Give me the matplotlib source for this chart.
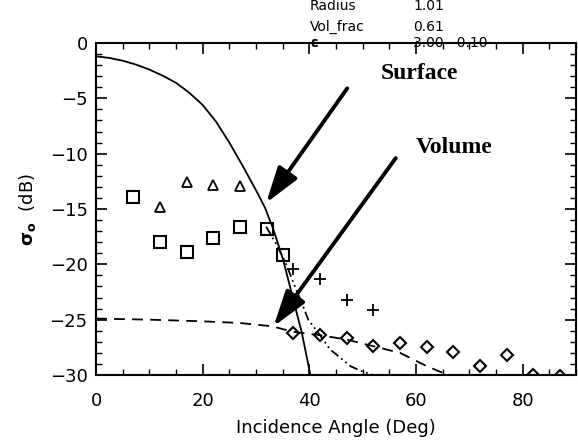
import matplotlib
matplotlib.use("Agg")
import matplotlib.pyplot as plt
from matplotlib.ticker import MultipleLocator

# measured points (open symbols)
sq_x = [7, 12, 17, 22, 27, 32, 35]
sq_y = [-13.9, -18.0, -18.9, -17.6, -16.6, -16.8, -19.2]
tri_x = [12, 17, 22, 27]
tri_y = [-14.8, -12.6, -12.8, -12.95]
plus_x = [37, 42, 47, 52]
plus_y = [-20.4, -21.3, -23.2, -24.1]
dia_x = [37, 42, 47, 52, 57, 62, 67, 72, 77, 82, 87]
dia_y = [-26.2, -26.4, -26.7, -27.4, -27.1, -27.5, -27.9, -29.2, -28.2, -30.0, -30.1]

# model curves
surf_x = [0, 2.5, 5, 7.5, 10, 12.5, 15, 17.5, 20, 22.5, 25, 27.5, 30,
          31.7, 33.3, 35.1, 37.0, 38.6, 40.2]
surf_y = [-1.2, -1.35, -1.6, -1.95, -2.4, -2.95, -3.6, -4.5, -5.6, -7.1, -9.0,
          -11.1, -13.3, -14.9, -16.9, -19.6, -23.2, -26.2, -30.0]
tot_x = [31.9, 33.5, 35.5, 37.3, 38.6, 39.8, 42.0, 43.9, 45.2, 47.7, 49.5, 52.0]
tot_y = [-16.6, -17.9, -19.8, -22.0, -23.5, -25.0, -26.4, -27.7, -28.2, -29.2, -29.6, -30.0]
vol_x = [0, 10, 20, 27, 33, 37, 42, 47, 52, 57, 62, 66]
vol_y = [-24.9, -25.0, -25.15, -25.3, -25.6, -26.1, -26.4, -26.8, -27.4, -28.0, -29.2, -30.0]

fig = plt.figure(figsize=(5.78, 4.42), dpi=100)
ax = fig.add_axes([96/578, 1-375/442, 480/578, 332/442])

ax.plot(surf_x, surf_y, "k-", lw=1.3)
ax.plot(tot_x, tot_y, "k", lw=1.3, dashes=[5, 2, 1, 2, 1, 2])
ax.plot(vol_x, vol_y, "k", lw=1.3, dashes=[6, 4])

ax.plot(sq_x, sq_y, "ks", mfc="none", ms=8, mew=1.5)
ax.plot(tri_x, tri_y, "k^", mfc="none", ms=7, mew=1.3)
ax.plot(plus_x, plus_y, "k+", ms=9, mew=1.3)
ax.plot(dia_x, dia_y, "kD", mfc="none", ms=6.5, mew=1.5)

# arrows and labels
arr = dict(arrowstyle="-|>,head_length=1.1,head_width=0.35", lw=2.8,
           color="k", mutation_scale=20, shrinkA=0, shrinkB=0)
ax.annotate("", xy=(31.9, -14.45), xytext=(47.1, -4.1), arrowprops=arr)
ax.annotate("", xy=(33.3, -25.6), xytext=(56.2, -10.4), arrowprops=arr)
ax.text(60.6, -2.8, "Surface", family="Liberation Serif", weight="bold",
        fontsize=17, ha="center", va="center")
ax.text(67.1, -9.4, "Volume", family="Liberation Serif", weight="bold",
        fontsize=17, ha="center", va="center")

ax.set_xlim(0, 90)
ax.set_ylim(-30, 0)
ax.xaxis.set_major_locator(MultipleLocator(20))
ax.xaxis.set_minor_locator(MultipleLocator(5))
ax.yaxis.set_major_locator(MultipleLocator(5))
ax.yaxis.set_minor_locator(MultipleLocator(1))
ax.tick_params(which="both", direction="in", top=True, right=True, labelsize=13)
ax.tick_params(which="major", length=8, width=1.2)
ax.tick_params(which="minor", length=4, width=1.0)
ax.tick_params(axis="x", pad=12)
ax.tick_params(axis="y", pad=6)
for s in ax.spines.values():
    s.set_linewidth(1.5)

ax.set_xlabel("Incidence Angle (Deg)", fontsize=13, labelpad=7)
ax.set_ylabel(r"$\mathbf{\sigma}_\mathbf{o}$  (dB)", fontsize=13, labelpad=8)

# parameter block at the top
fs = 10
fig.text(310/578, 1-6/442, "Radius", fontsize=fs, va="center")
fig.text(413/578, 1-6/442, "1.01", fontsize=fs, va="center")
fig.text(310/578, 1-27/442, "Vol_frac", fontsize=fs, va="center")
fig.text(413/578, 1-27/442, "0.61", fontsize=fs, va="center")
fig.text(310/578, 1-43/442, "ε", fontsize=fs, weight="bold", va="center")
fig.text(413/578, 1-43/442, "3.00   0.10", fontsize=fs, va="center")

fig.savefig("out.png", dpi=100)
